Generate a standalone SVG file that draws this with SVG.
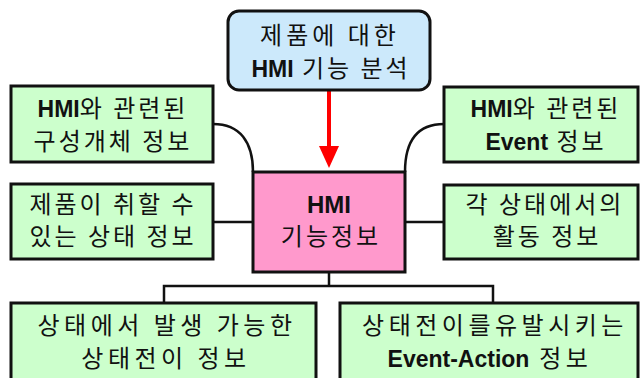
<svg xmlns="http://www.w3.org/2000/svg" width="640" height="378" viewBox="0 0 640 378">
<style>
.box{stroke:#111;stroke-width:3}
.g{fill:#ccffcc}
.b{fill:#cce9fb}
.p{fill:#ff99cc}
.t{font-family:"Noto Sans CJK KR","Liberation Sans",sans-serif;font-size:24px;fill:#111;text-anchor:middle;letter-spacing:3px}
.t2{letter-spacing:4.5px}
.e{font-family:"Liberation Sans",sans-serif;font-weight:bold;font-size:23px;letter-spacing:0}
.c{fill:none;stroke:#111;stroke-width:2.5}
</style>
<defs>
<marker id="ah" markerWidth="6" markerHeight="5" refX="0" refY="2.5" orient="auto" markerUnits="strokeWidth">
<path d="M0,0 L5.5,2.5 L0,5 Z" fill="#ff0000"/>
</marker>
</defs>
<g id="connectors">
<path class="c" d="M213,124 C240,124 253,142 253,172"/>
<path class="c" d="M444,124 C417,124 405,142 405,172"/>
<path class="c" d="M213,222 H253"/>
<path class="c" d="M405,222 H444"/>
<path class="c" d="M329,272 V286 M164,302 V286 H493 V302"/>
<path d="M329,91 V146" stroke="#ff0000" stroke-width="4" fill="none" marker-end="url(#ah)"/>
</g>
<g id="top">
<rect class="box b" x="228" y="11" width="202" height="79" rx="11"/>
<text class="t" x="330" y="44" style="letter-spacing:4px">제품에 대한</text>
<text class="t" x="331" y="77"><tspan class="e">HMI</tspan> 기능 분석</text>
</g>
<g id="center">
<rect class="box p" x="253" y="172" width="152" height="100"/>
<text class="t" x="329" y="213"><tspan class="e" style="font-size:24px">HMI</tspan></text>
<text class="t" x="331" y="245">기능정보</text>
</g>
<g id="left1">
<rect class="box g" x="11" y="86" width="202" height="76"/>
<text class="t" x="113" y="117"><tspan class="e">HMI</tspan>와 관련된</text>
<text class="t" x="113" y="150">구성개체 정보</text>
</g>
<g id="left2">
<rect class="box g" x="11" y="184" width="202" height="75"/>
<text class="t" x="113" y="213">제품이 취할 수</text>
<text class="t" x="113" y="245">있는 상태 정보</text>
</g>
<g id="right1">
<rect class="box g" x="444" y="87" width="194" height="75"/>
<text class="t" x="546" y="117"><tspan class="e">HMI</tspan>와 관련된</text>
<text class="t" x="546" y="150"><tspan class="e">Event</tspan> 정보</text>
</g>
<g id="right2">
<rect class="box g" x="444" y="185" width="194" height="74"/>
<text class="t" x="545" y="213">각 상태에서의</text>
<text class="t" x="547" y="245">활동 정보</text>
</g>
<g id="bottom-left">
<rect class="box g" x="11" y="303" width="305" height="90"/>
<text class="t t2" x="167" y="334">상태에서 발생 가능한</text>
<text class="t t2" x="166" y="367">상태전이 정보</text>
</g>
<g id="bottom-right">
<rect class="box g" x="340" y="303" width="298" height="90"/>
<text class="t t2" x="495" y="334">상태전이를유발시키는</text>
<text class="t t2" x="490" y="367"><tspan class="e">Event-Action</tspan> 정보</text>
</g>
</svg>
